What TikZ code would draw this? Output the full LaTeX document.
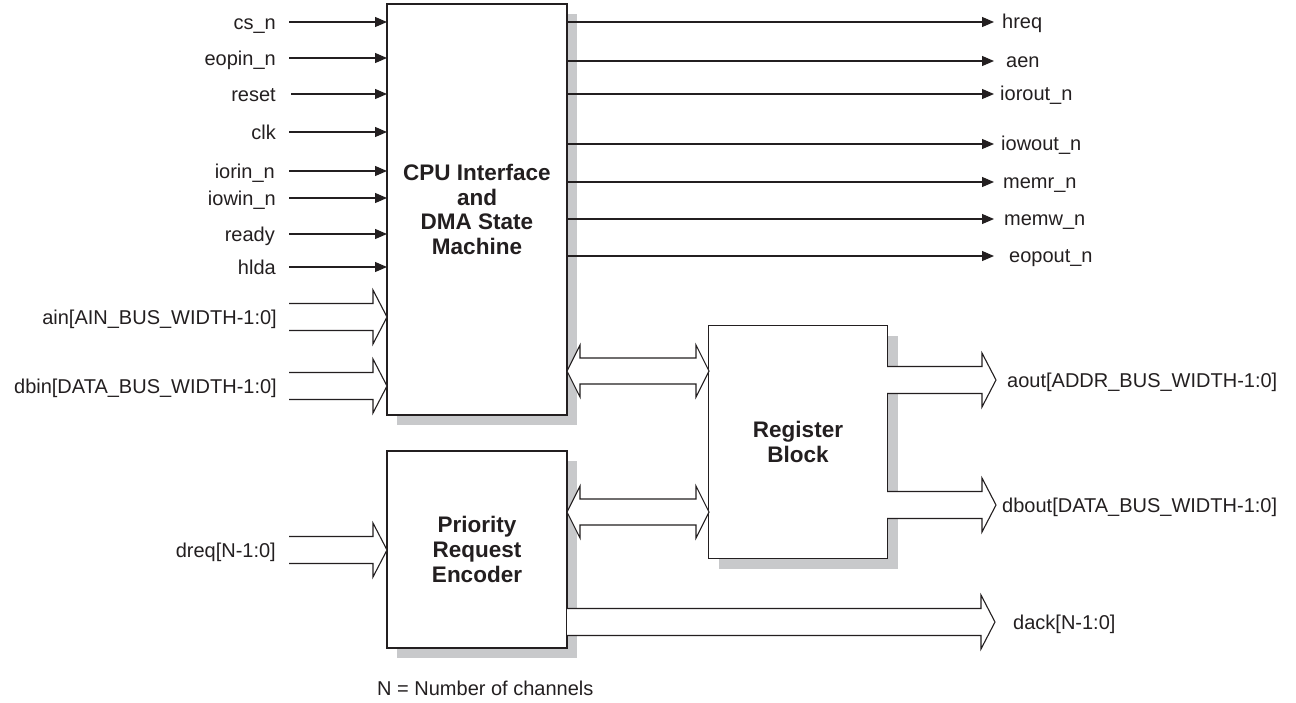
\documentclass[tikz,border=0pt]{standalone}
\usepackage{fontspec}
\setmainfont{Liberation Sans}
\usetikzlibrary{arrows.meta,shadows}
\definecolor{ink}{HTML}{231F20}
\definecolor{shade}{HTML}{C8C9CB}
\tikzset{
  blockbox/.style={draw=ink, line width=1.4pt, fill=white, inner sep=0pt, outer sep=0pt,
    align=center, text=ink, font=\bfseries\fontsize{22.5}{24.8}\selectfont,
    drop shadow={shadow xshift=10pt, shadow yshift=-10pt, opacity=1, fill=shade, draw=none}},
  sig/.style={draw=ink, line width=1.2pt, -{Triangle[length=12pt,width=10pt]}},
  bus/.style={draw=ink, line width=1.1pt, fill=white, line join=miter},
  lbl/.style={font=\fontsize{20}{24}\selectfont, text=ink, inner sep=0pt},
}
% rightward bus arrow: #1 tail x, #2 tip x, #3 centre y
\newcommand\BusRight[3]{%
  \draw[bus] (#1,#3-13.5) -- (#2-14,#3-13.5) -- (#2-14,#3-27) -- (#2,#3)
    -- (#2-14,#3+27) -- (#2-14,#3+13.5) -- (#1,#3+13.5);}
% two-headed bus arrow: #1 left tip x, #2 right tip x, #3 centre y
\newcommand\BusBoth[3]{%
  \draw[bus] (#1,#3) -- (#1+13,#3-26) -- (#1+13,#3-13) -- (#2-13,#3-13)
    -- (#2-13,#3-26) -- (#2,#3) -- (#2-13,#3+26) -- (#2-13,#3+13)
    -- (#1+13,#3+13) -- (#1+13,#3+26) -- cycle;}
\begin{document}
\begin{tikzpicture}[x=1pt,y=-1pt]
\useasboundingbox (0,0) rectangle (1296,702);

% blocks
\node[blockbox, minimum width=180pt, minimum height=411pt] (cpu) at (477,209.5)
  {CPU Interface\\and\\DMA State\\Machine};
\node[blockbox, minimum width=180pt, minimum height=197pt] (pre) at (477,549.5)
  {Priority\\Request\\Encoder};
\node[blockbox, minimum width=179pt, minimum height=233pt] (reg) at (798,442)
  {Register\\Block};

% single-line inputs
\coordinate (i1) at (289,22);  \draw[sig] (i1) -- (i1 -| cpu.west);
\coordinate (i2) at (289,58);  \draw[sig] (i2) -- (i2 -| cpu.west);
\coordinate (i3) at (291,94);  \draw[sig] (i3) -- (i3 -| cpu.west);
\coordinate (i4) at (289,132); \draw[sig] (i4) -- (i4 -| cpu.west);
\coordinate (i5) at (289,171); \draw[sig] (i5) -- (i5 -| cpu.west);
\coordinate (i6) at (289,198); \draw[sig] (i6) -- (i6 -| cpu.west);
\coordinate (i7) at (289,234); \draw[sig] (i7) -- (i7 -| cpu.west);
\coordinate (i8) at (289,267); \draw[sig] (i8) -- (i8 -| cpu.west);

\node[lbl, anchor=base east] (li1) at (276,29)  {cs\_n};
\node[lbl, anchor=base east] (li2) at (276,65)  {eopin\_n};
\node[lbl, anchor=base east] (li3) at (276,101) {reset};
\node[lbl, anchor=base east] (li4) at (276,139) {clk};
\node[lbl, anchor=base east] (li5) at (275,178) {iorin\_n};
\node[lbl, anchor=base east] (li6) at (276,205) {iowin\_n};
\node[lbl, anchor=base east] (li7) at (275,241) {ready};
\node[lbl, anchor=base east] (li8) at (276,274) {hlda};

% single-line outputs
\coordinate (o1) at (994,22);  \draw[sig] (o1 -| cpu.east) -- (o1);
\coordinate (o2) at (994,61);  \draw[sig] (o2 -| cpu.east) -- (o2);
\coordinate (o3) at (994,94);  \draw[sig] (o3 -| cpu.east) -- (o3);
\coordinate (o4) at (994,144); \draw[sig] (o4 -| cpu.east) -- (o4);
\coordinate (o5) at (994,182); \draw[sig] (o5 -| cpu.east) -- (o5);
\coordinate (o6) at (994,219); \draw[sig] (o6 -| cpu.east) -- (o6);
\coordinate (o7) at (994,256); \draw[sig] (o7 -| cpu.east) -- (o7);

\node[lbl, anchor=base west] (lo1) at (1002,28)  {hreq};
\node[lbl, anchor=base west] (lo2) at (1006,67)  {aen};
\node[lbl, anchor=base west] (lo3) at (1000,100) {iorout\_n};
\node[lbl, anchor=base west] (lo4) at (1001,150) {iowout\_n};
\node[lbl, anchor=base west] (lo5) at (1003,188) {memr\_n};
\node[lbl, anchor=base west] (lo6) at (1004,225) {memw\_n};
\node[lbl, anchor=base west] (lo7) at (1009,262) {eopout\_n};

% buses
\BusRight{289}{387}{317}
\BusRight{289}{387}{386}
\BusRight{289}{387}{550}
\BusBoth{567}{709}{371}
\BusBoth{567}{709}{512}
\BusRight{887}{996}{380}
\BusRight{887}{996}{505}
\BusRight{567}{995}{622}

\node[lbl, anchor=base east] (lain)  at (277,324) {ain[AIN\_BUS\_WIDTH-1:0]};
\node[lbl, anchor=base east] (ldbin) at (277,393) {dbin[DATA\_BUS\_WIDTH-1:0]};
\node[lbl, anchor=base east] (ldreq) at (276,557) {dreq[N-1:0]};
\node[lbl, anchor=base west] (laout) at (1007,387) {aout[ADDR\_BUS\_WIDTH-1:0]};
\node[lbl, anchor=base west] (ldbout) at (1002,512) {dbout[DATA\_BUS\_WIDTH-1:0]};
\node[lbl, anchor=base west] (ldack) at (1013,629) {dack[N-1:0]};

\node[lbl, anchor=base west] (note) at (377,695) {N = Number of channels};
\end{tikzpicture}
\end{document}
